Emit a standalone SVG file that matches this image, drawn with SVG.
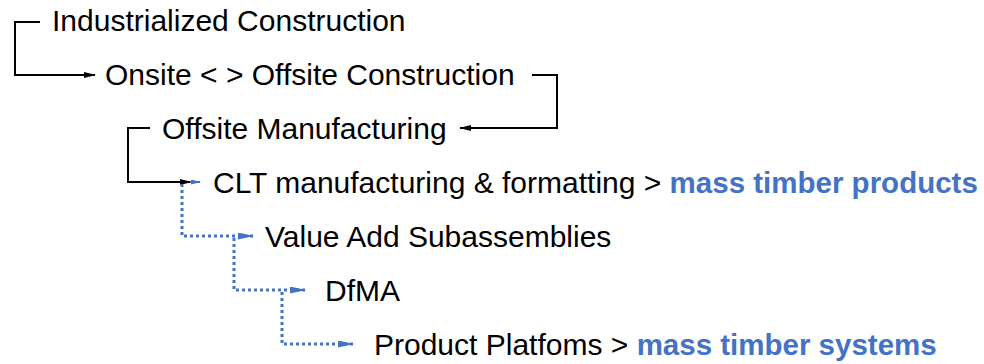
<svg xmlns="http://www.w3.org/2000/svg" width="984" height="364" viewBox="0 0 984 364">
<defs>
<marker id="ab" markerWidth="12" markerHeight="6" refX="11" refY="3" orient="auto" markerUnits="userSpaceOnUse"><path d="M0,0 L12,3 L0,6 Z" fill="#000"/></marker>
<marker id="au" markerWidth="16" markerHeight="7" refX="15" refY="3.5" orient="auto" markerUnits="userSpaceOnUse"><path d="M0,0 L16,3.5 L0,7 Z" fill="#4472C4"/></marker>
<marker id="aus" markerWidth="10" markerHeight="5" refX="9" refY="2.5" orient="auto" markerUnits="userSpaceOnUse"><path d="M0,0 L10,2.5 L0,5 Z" fill="#4472C4"/></marker>
</defs>
<style>
text{font-family:"Liberation Sans",Arial,sans-serif;font-size:30px;fill:#000}
.b{font-weight:bold;fill:#4472C4;font-size:29.5px}
.k{fill:none;stroke:#000;stroke-width:2}
.d{fill:none;stroke:#4472C4;stroke-width:3;stroke-dasharray:3 3}
</style>
<rect width="984" height="364" fill="#fff"/>
<g id="connectors">
<path class="k" d="M40,22 H15 V75 H95" marker-end="url(#ab)"/>
<path class="k" d="M532,75 H557 V128 H460" marker-end="url(#ab)"/>
<path class="k" d="M150,128 H128 V182 H191" marker-end="url(#ab)"/>
<path d="M190,182 H200" stroke="#4472C4" stroke-width="2" marker-end="url(#aus)"/>
<path class="d" d="M182,184 V236 H253" marker-end="url(#au)"/>
<path class="d" d="M234,238 V290 H305" marker-end="url(#au)"/>
<path class="d" d="M282,292 V344 H353" marker-end="url(#au)"/>
</g>
<g id="n1"><text x="52" y="31">Industrialized Construction</text></g>
<g id="n2"><text x="105" y="85">Onsite &lt; &gt; Offsite Construction</text></g>
<g id="n3"><text x="162" y="139">Offsite Manufacturing</text></g>
<g id="n4"><text x="213" y="193">CLT manufacturing &amp; formatting &gt; <tspan class="b">mass timber products</tspan></text></g>
<g id="n5"><text x="265" y="247">Value Add Subassemblies</text></g>
<g id="n6"><text x="325" y="301">DfMA</text></g>
<g id="n7"><text x="374" y="355">Product Platfoms &gt; <tspan class="b">mass timber systems</tspan></text></g>
</svg>
